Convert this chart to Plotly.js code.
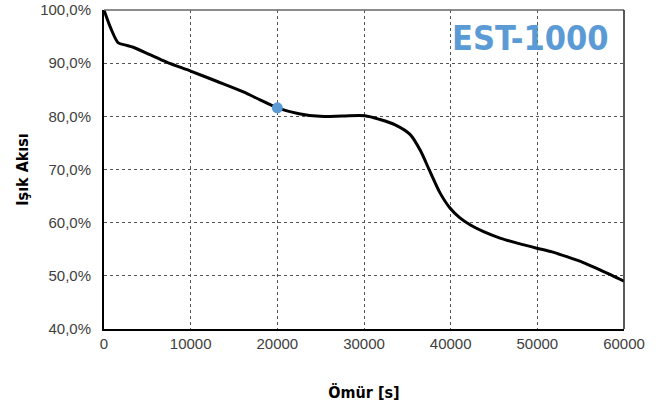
<!DOCTYPE html>
<html><head><meta charset="utf-8">
<script src="https://cdn.plot.ly/plotly-3.0.1.min.js"></script>
<style>html,body{margin:0;padding:0;background:#fff}#c{width:665px;height:410px}</style>
</head><body><div id="c"></div>
<script>
const lifeSec = [0, 800, 1650, 2500, 3380, 5300, 7230, 10000, 13000, 16080, 18000, 20000, 22500, 24920, 27500, 30100, 31850, 33600, 35310, 36460, 37620, 38770, 39920, 41000, 42230, 43800, 45690, 47800, 49930, 51700, 53400, 55300, 57230, 58600, 60000];
const lightFlux = [100, 96.5, 93.8, 93.4, 93.0, 91.6, 90.2, 88.5, 86.6, 84.6, 83.1, 81.6, 80.5, 80.0, 80.05, 80.1, 79.4, 78.4, 76.6, 73.7, 69.6, 65.6, 62.75, 61.0, 59.6, 58.3, 57.1, 56.1, 55.2, 54.5, 53.6, 52.5, 51.1, 50.1, 49.0];
const markX = [20000];
const markY = [81.6];
const yTickVals = [40, 50, 60, 70, 80, 90, 100];
const yTickText = ['40,0%', '50,0%', '60,0%', '70,0%', '80,0%', '90,0%', '100,0%'];
const xTickVals = [0, 10000, 20000, 30000, 40000, 50000, 60000];
const xTickText = ['0', '10000', '20000', '30000', '40000', '50000', '60000'];

const traces = [
  {x: lifeSec, y: lightFlux, mode: 'lines', line: {color: '#000', width: 3, shape: 'spline', smoothing: 0.8}, hoverinfo: 'skip'},
  {x: markX, y: markY, mode: 'markers', marker: {color: '#5B9BD5', size: 11}}
];
const tickFont = {family: 'Liberation Sans, Arial, sans-serif', size: 15, color: '#404040'};
const titleFont = {family: 'DejaVu Sans Condensed, Roboto, sans-serif', size: 16, color: '#000', weight: 'bold'};
const layout = {
  width: 665, height: 410,
  margin: {l: 104, r: 41, t: 10, b: 81},
  showlegend: false,
  paper_bgcolor: '#fff', plot_bgcolor: '#fff',
  xaxis: {
    range: [0, 60000], tickvals: xTickVals, ticktext: xTickText,
    showgrid: true, gridcolor: '#555', griddash: 'dot', gridwidth: 1,
    zeroline: false, showline: true, linecolor: '#000', linewidth: 2,
    ticks: '', tickfont: tickFont,
    title: {text: 'Ömür [s]', font: titleFont, standoff: 36}
  },
  yaxis: {
    range: [40, 100], tickvals: yTickVals, ticktext: yTickText,
    showgrid: true, gridcolor: '#555', griddash: 'dot', gridwidth: 1,
    zeroline: false, showline: true, linecolor: '#000', linewidth: 2,
    ticks: '', tickfont: tickFont, ticklabelstandoff: 8,
    title: {text: 'Işık Akısı', font: titleFont, standoff: 8}
  },
  shapes: [
    {type: 'line', xref: 'paper', yref: 'paper', x0: 0, x1: 1, y0: 1, y1: 1, line: {color: '#666', width: 1.5}},
    {type: 'line', xref: 'paper', yref: 'paper', x0: 1, x1: 1, y0: 0, y1: 1, line: {color: '#222', width: 1.5}}
  ],
  annotations: [
    {text: '<b>EST-1000</b>', xref: 'paper', yref: 'paper', x: 0.821, y: 0.913, xanchor: 'center', yanchor: 'middle', showarrow: false,
     font: {family: 'DejaVu Sans Condensed, Roboto, sans-serif', size: 34, color: '#5B9BD5'}}
  ]
};
Plotly.newPlot('c', traces, layout, {displayModeBar: false, staticPlot: true});
</script></body></html>
